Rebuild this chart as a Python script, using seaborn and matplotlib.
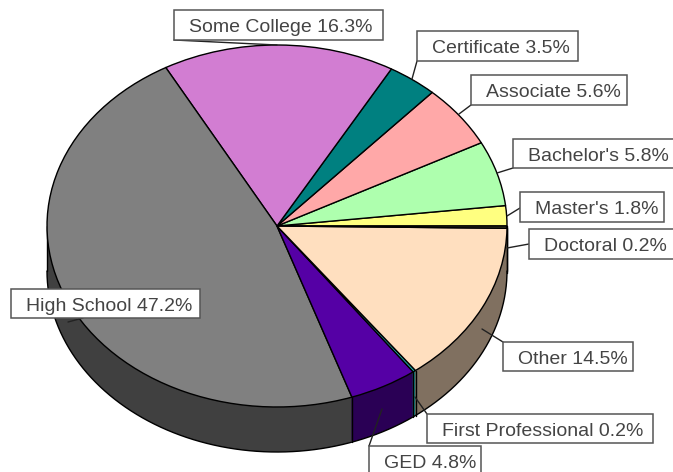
import numpy as np
import seaborn as sns
from matplotlib import pyplot as plt
from matplotlib.patches import Rectangle

categories = ["Master's", "Bachelor's", "Associate", "Certificate", "Some College",
              "High School", "GED", "First Professional", "Other", "Doctoral"]
shares = [1.8, 5.8, 5.6, 3.5, 16.3, 47.2, 4.8, 0.2, 14.5, 0.2]
top_colors = ["#FFFF80", "#AEFFAE", "#FFA8A8", "#008080", "#D27DD2",
              "#808080", "#5500A5", "#20B5B5", "#FFDFBF", "#40402A"]
side_colors = ["#808040", "#578057", "#805454", "#004040", "#693E69",
               "#404040", "#2A0055", "#108080", "#807060", "#807060"]

# x0, y0, x1, y1 of each label box, then the far end of its leader line (pixels)
boxes = [(520, 192, 664, 222), (513, 139, 680, 168), (471, 75, 627, 105), (417, 31, 578, 61),
         (174, 10, 383, 40), (11, 289, 200, 318), (369, 446, 481, 480), (427, 414, 653, 443),
         (503, 342, 633, 371), (529, 229, 680, 259)]
leaders = [(520, 208, 507, 216), (513, 168, 497, 173), (471, 105, 459, 114), (417, 61, 412, 79),
           (174, 40, 277, 45), (83, 318, 68, 322), (369, 446, 382, 409), (427, 414, 415, 397),
           (503, 342, 482, 329), (529, 244, 507, 248)]

CX, CY, RX, RY, DEPTH = 277, 226, 230, 181, 45


def px(x, y):
    return (x - CX) / RX, (CY - y) / RY


sns.set_theme(style="white")
plt.rcParams["font.family"] = ["Liberation Sans", "DejaVu Sans"]

fig = plt.figure(figsize=(6.73, 4.72), dpi=100)
ax = fig.add_axes([0, 0, 1, 1])

# side wall: same pie repeated downwards
d = DEPTH / RY
for off in np.linspace(d, 0, DEPTH + 1):
    ax.pie(shares, colors=sns.color_palette(side_colors), startangle=0, radius=1,
           center=(0, -off), frame=True, wedgeprops={"linewidth": 0.6, "edgecolor": "none"})

t = np.linspace(np.pi, 2 * np.pi, 300)
ax.plot(np.cos(t), np.sin(t) - d, color="black", lw=1)
bounds = np.cumsum(shares) / np.sum(shares) * 2 * np.pi
for b in list(bounds) + [np.pi]:
    if np.sin(b) <= 1e-6:
        ax.plot([np.cos(b)] * 2, [np.sin(b), np.sin(b) - d], color="black", lw=1)

ax.pie(shares, colors=sns.color_palette(top_colors), startangle=0, radius=1, center=(0, 0),
       frame=True, wedgeprops={"linewidth": 1, "edgecolor": "black", "zorder": 3})

ax.set_aspect("auto")
ax.set_xlim((0 - CX) / RX, (673 - CX) / RX)
ax.set_ylim((CY - 472) / RY, CY / RY)
ax.set_xticks([])
ax.set_yticks([])
sns.despine(ax=ax, left=True, bottom=True)

for name, val, box, lead in zip(categories, shares, boxes, leaders):
    x0, y0, x1, y1 = box
    ax.plot(*zip(px(lead[0], lead[1]), px(lead[2], lead[3])), color="#222222", lw=1, zorder=4)
    lx, ly = px(x0, y1)
    ax.add_patch(Rectangle((lx, ly), (x1 - x0) / RX, (y1 - y0) / RY, facecolor="white",
                           edgecolor="#555555", lw=1.1, zorder=5))
    tx, ty = px(x0 + 15, y0 + 17.5)
    ax.text(tx, ty, f"{name} {val}%", fontsize=14, color="#444444", ha="left", va="center", zorder=6)

fig.savefig("out.png", dpi=100)
